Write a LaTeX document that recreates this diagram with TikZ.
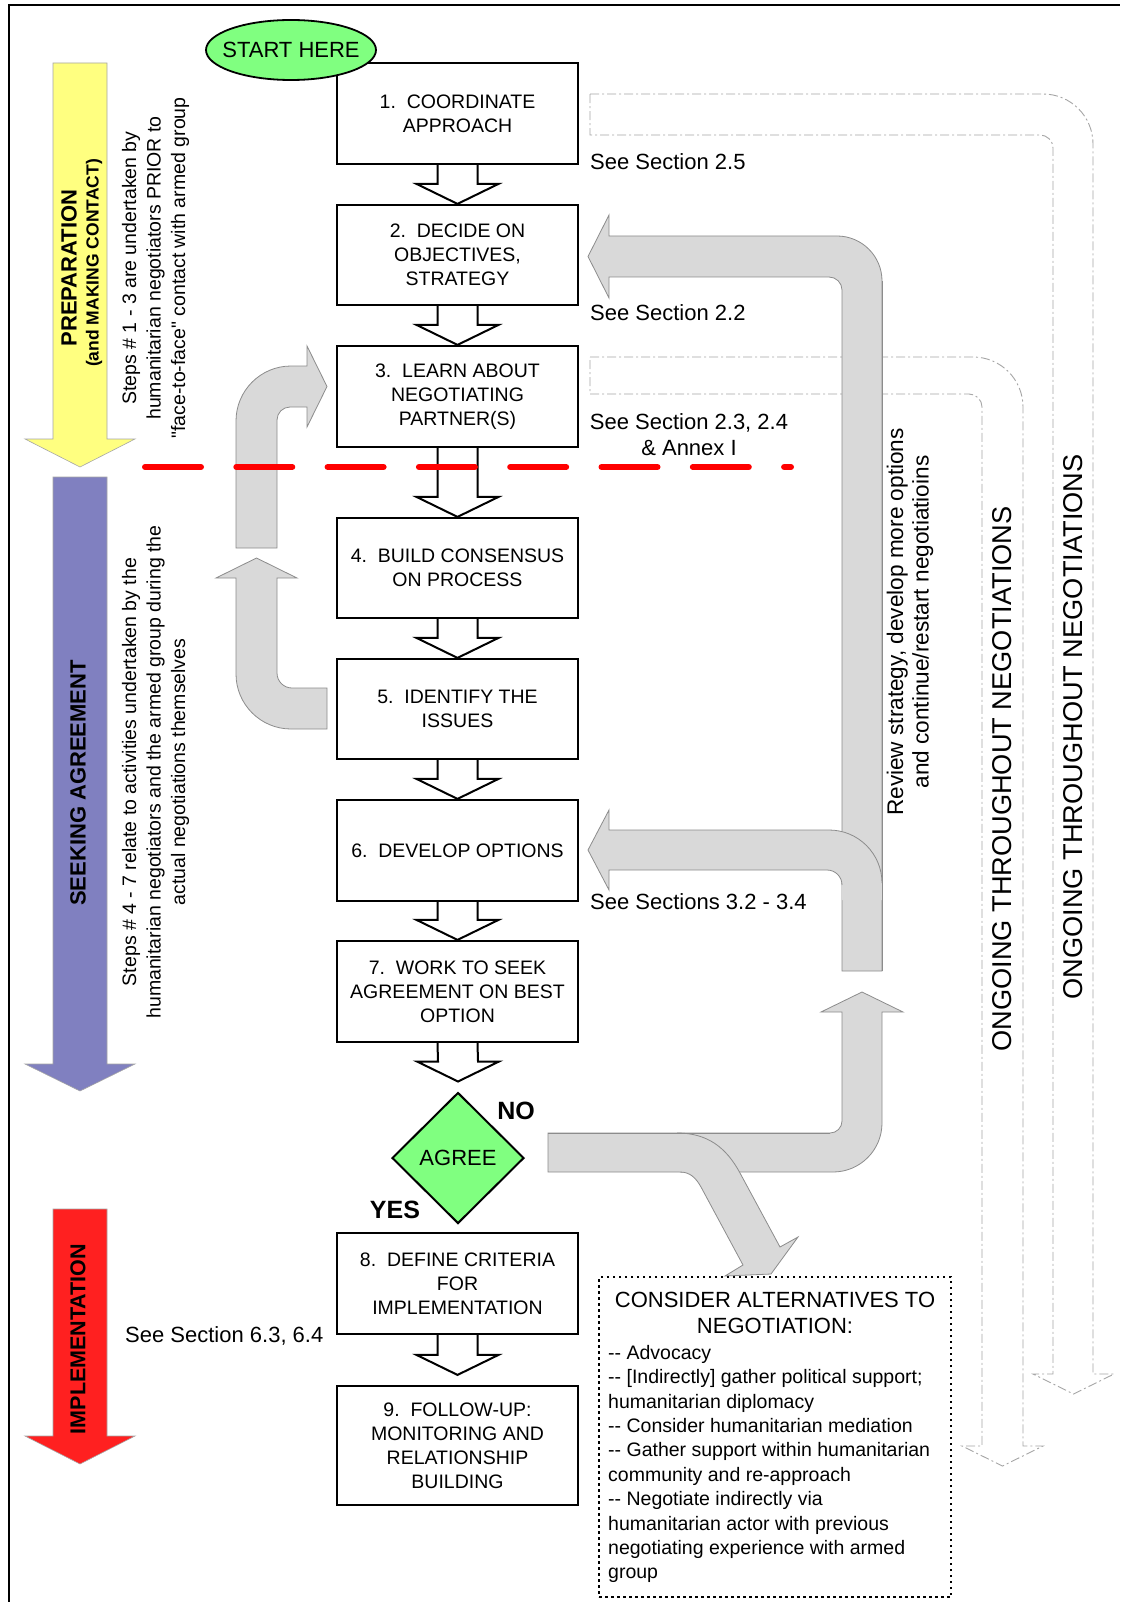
\documentclass[tikz,border=0pt]{standalone}
\usepackage{fontspec}
\setmainfont{Liberation Sans}
\newfontfamily\rawfont{Liberation Sans}[Ligatures=TeXOff]
\usetikzlibrary{shapes.geometric,calc}
\definecolor{agreen}{HTML}{80FF80}
\definecolor{ayellow}{HTML}{FFFF80}
\definecolor{apurple}{HTML}{8080C0}
\definecolor{ared}{HTML}{FF2020}
\definecolor{garrfill}{HTML}{D9D9D9}
\definecolor{garrline}{HTML}{8C8C8C}
\definecolor{dashline}{HTML}{A6A6A6}
\newcommand{\myfs}[2]{\fontsize{#1}{#2}\selectfont}
\newcommand{\sq}{{\rawfont"}}
\newcommand{\blockarrow}[3]{%
  \draw[blockarr] ($(#1.south)+(-20,0)$) -- ($(#2.north)+(-20,-20-#3)$) -- ($(#2.north)+(-41,-20-#3)$) -- ($(#2.north)+(0,-#3)$) -- ($(#2.north)+(41,-20-#3)$) -- ($(#2.north)+(20,-20-#3)$) -- ($(#1.south)+(20,0)$);}
\begin{document}
\begin{tikzpicture}[x=1pt,y=-1pt,
  stepbox/.style={draw,line width=2.2pt,fill=white,minimum width=241pt,inner sep=0pt,align=center,font=\myfs{19.5}{24}},
  blockarr/.style={draw,line width=2pt,fill=white,line join=miter},
  grayarr/.style={fill=garrfill,draw=garrline,line width=0.8pt},
  grayfill/.style={fill=garrfill},
  grayline/.style={draw=garrline,line width=0.8pt},
  dasharr/.style={draw=dashline,line width=0.9pt,dash pattern=on 9pt off 3pt on 2pt off 3pt},
  phasearr/.style={draw=gray!70,line width=0.6pt},
  lbl/.style={font=\myfs{22}{26.6},inner sep=0pt},
  txt/.style={font=\myfs{19.5}{24.4},inner sep=0pt},
  boldlbl/.style={font=\bfseries\myfs{25}{28},inner sep=0pt}]

\useasboundingbox (0,0) rectangle (1120,1602);
\fill[white] (0,0) rectangle (1120,1602);
% frame
\draw[line width=2pt] (9,1602) -- (9,5) -- (1120,5);

% dashed "ongoing" arrows
\draw[dasharr] (590,94) -- (1043,94) arc[start angle=-90,end angle=0,radius=50] -- (1093,1374) -- (1114,1374) -- (1073.5,1394) -- (1033,1374) -- (1053,1374) -- (1053,148) arc[start angle=0,end angle=-90,radius=13] -- (590,135) -- cycle;
\draw[dasharr] (590,357) -- (973,357) arc[start angle=-90,end angle=0,radius=50] -- (1023,1446) -- (1043,1446) -- (1002.5,1466) -- (962,1446) -- (982,1446) -- (982,407) arc[start angle=0,end angle=-90,radius=13] -- (590,394) -- cycle;
\node[font=\myfs{27.2}{30},rotate=90,inner sep=0pt] (ongoing1) at (1002.5,779) {ONGOING THROUGHOUT NEGOTIATIONS};
\node[font=\myfs{27.2}{30},rotate=90,inner sep=0pt] (ongoing2) at (1073,727) {ONGOING THROUGHOUT NEGOTIATIONS};

% phase arrows
\filldraw[phasearr,fill=ayellow] (53,63) -- (107,63) -- (107,439) -- (135,439) -- (80,467) -- (25,439) -- (53,439) -- cycle;
\filldraw[phasearr,fill=apurple] (53,477) -- (107,477) -- (107,1064) -- (135,1064) -- (80,1091) -- (25,1064) -- (53,1064) -- cycle;
\filldraw[phasearr,fill=ared] (53,1209) -- (107,1209) -- (107,1436) -- (135,1436) -- (80,1464) -- (25,1436) -- (53,1436) -- cycle;
\node[font=\bfseries\myfs{22}{26},rotate=90,inner sep=0pt] (prep) at (69,268) {PREPARATION};
\node[font=\bfseries\myfs{17.5}{20},rotate=90,inner sep=0pt] (prepsub) at (94,263) {(and MAKING CONTACT)};
\node[font=\bfseries\myfs{22}{26},rotate=90,inner sep=0pt] (seek) at (78,783) {SEEKING AGREEMENT};
\node[font=\bfseries\myfs{21.5}{26},rotate=90,inner sep=0pt] (impl) at (78,1339) {IMPLEMENTATION};

% rotated notes
\node[txt,rotate=90,align=center,font=\myfs{19.5}{24.5}] (steps13) at (155.5,268) {Steps \# 1 - 3 are undertaken by\\humanitarian negotiators PRIOR to\\\sq face-to-face\sq{} contact with armed group};
\node[txt,rotate=90,align=center,font=\myfs{19.5}{24.5}] (steps47) at (155.5,772) {Steps \# 4 - 7 relate to activities undertaken by the\\humanitarian negotiators and the armed group during the\\actual negotiations themselves};
\node[txt,rotate=90,align=center,font=\myfs{22.6}{25.5}] (review) at (910,622) {Review strategy, develop more options\\and continue/restart negotiatioins};

% gray arrow A (into box 3)
\filldraw[grayarr] (236,548) -- (236,421) arc[start angle=180,end angle=270,radius=55] -- (307,366) -- (307,346) -- (327,386.5) -- (307,427) -- (307,407) -- (290,407) arc[start angle=270,end angle=180,radius=13] -- (277,548) -- cycle;
% gray arrow B (from box 5 upward)
\filldraw[grayarr] (327,688) -- (292,688) arc[start angle=90,end angle=180,radius=15] -- (277,578) -- (297,578) -- (256.5,558) -- (216,578) -- (236,578) -- (236,674) arc[start angle=180,end angle=90,radius=55] -- (327,729) -- cycle;
% gray arrow C (up and into box 2)
\filldraw[grayarr] (842,971) -- (842,290) arc[start angle=0,end angle=-90,radius=13] -- (609,277) -- (609,298) -- (588,256.5) -- (609,215) -- (609,236) -- (837,236) arc[start angle=-90,end angle=0,radius=45] -- (882,971) -- cycle;
% gray branch D (into box 6)
\fill[grayfill] (609,830) -- (829,830) arc[start angle=-90,end angle=0,radius=53] -- (882,900) -- (842,900) -- (842,885) arc[start angle=0,end angle=-90,radius=15] -- (609,870) -- (609,890) -- (588,850) -- (609,810) -- cycle;
\draw[grayline] (842,885) arc[start angle=0,end angle=-90,radius=15] -- (609,870) -- (609,890) -- (588,850) -- (609,810) -- (609,830) -- (829,830) arc[start angle=-90,end angle=0,radius=53];
\draw[grayline] (882,281) -- (882,971);
% gray arrow E (NO branch, up)
\filldraw[grayarr] (548,1133) -- (830,1133) arc[start angle=90,end angle=0,radius=12] -- (842,1012) -- (821,1012) -- (862,992) -- (903,1012) -- (882,1012) -- (882,1123) arc[start angle=0,end angle=90,radius=49] -- (548,1172) -- cycle;
% gray branch F (down to alternatives)
\fill[grayfill] (677,1133) .. controls (707,1133) and (726,1147) .. (740,1173) -- (780,1247) -- (798,1237) -- (771,1274) -- (725,1276) -- (743,1265) -- (701,1187) .. controls (696,1178) and (690,1172) .. (680,1172) -- cycle;
\draw[grayline] (677,1133) .. controls (707,1133) and (726,1147) .. (740,1173) -- (780,1247) -- (798,1237) -- (771,1274) -- (725,1276) -- (743,1265) -- (701,1187) .. controls (696,1178) and (690,1172) .. (680,1172);
\draw[grayline] (548,1133) -- (830,1133);

% step boxes
\node[stepbox,minimum height=101pt] (b1) at (457.5,113.5) {1.\ \ COORDINATE\\APPROACH};
\node[stepbox,minimum height=100pt] (b2) at (457.5,255) {2.\ \ DECIDE ON\\OBJECTIVES,\\STRATEGY};
\node[stepbox,minimum height=101pt] (b3) at (457.5,396.5) {3.\ \ LEARN ABOUT\\NEGOTIATING\\PARTNER(S)};
\node[stepbox,minimum height=100pt] (b4) at (457.5,568) {4.\ \ BUILD CONSENSUS\\ON PROCESS};
\node[stepbox,minimum height=100pt] (b5) at (457.5,709) {5.\ \ IDENTIFY THE\\ISSUES};
\node[stepbox,minimum height=101pt] (b6) at (457.5,850.5) {6.\ \ DEVELOP OPTIONS};
\node[stepbox,minimum height=101pt] (b7) at (457.5,991.5) {7.\ \ WORK TO SEEK\\AGREEMENT ON BEST\\OPTION};
\node[diamond,draw,line width=2pt,fill=agreen,minimum width=132pt,minimum height=131pt,inner sep=0pt,font=\myfs{22}{26}] (agree) at (458,1158) {AGREE};
\node[stepbox,minimum height=101pt] (b8) at (457.5,1283.5) {8.\ \ DEFINE CRITERIA\\FOR\\IMPLEMENTATION};
\node[stepbox,minimum height=119pt] (b9) at (457.5,1445.5) {9.\ \ FOLLOW-UP:\\MONITORING AND\\RELATIONSHIP\\BUILDING};

\node[ellipse,draw,line width=1.8pt,fill=agreen,minimum width=170pt,minimum height=60pt,inner sep=0pt] (start) at (291,50) {};
\node[font=\myfs{22}{26},inner sep=0pt] (starttxt) at (start) {START HERE};

% block arrows between steps
\blockarrow{b1}{b2}{0}
\blockarrow{b2}{b3}{0}
\blockarrow{b3}{b4}{0}
\blockarrow{b4}{b5}{0}
\blockarrow{b5}{b6}{0}
\blockarrow{b6}{b7}{0}
\blockarrow{b7}{agree}{10}
\blockarrow{b8}{b9}{10}

\node[boldlbl] (no) at (516,1111) {NO};
\node[boldlbl] (yes) at (395,1210) {YES};

% side labels
\node[lbl,anchor=west] (s25) at (590,161.5) {See Section 2.5};
\node[lbl,anchor=west] (s22) at (590,313) {See Section 2.2};
\node[lbl,align=center] (s23) at (689,434.5) {See Section 2.3, 2.4\\\& Annex I};
\node[lbl,anchor=west] (s32) at (590,902) {See Sections 3.2 - 3.4};
\node[lbl,anchor=west] (s63) at (125,1336) {See Section 6.3, 6.4};

% alternatives box
\node[draw,fill=white,line width=1.8pt,dash pattern=on 2.5pt off 3.5pt,minimum width=352pt,minimum height=320pt,inner sep=0pt] (alt) at (775,1437) {};
\node[lbl,align=center] (alttitle) at (775,1313) {CONSIDER ALTERNATIVES TO\\NEGOTIATION:};
\node[txt,align=left,anchor=north west] (altbody) at (608,1345) {-{}- Advocacy\\-{}- [Indirectly] gather political support;\\humanitarian diplomacy\\-{}- Consider humanitarian mediation\\-{}- Gather support within humanitarian\\community and re-approach\\-{}- Negotiate indirectly via\\humanitarian actor with previous\\negotiating experience with armed\\group};

% red dashed separator
\draw[red,line width=6pt,line cap=round,dash pattern=on 56pt off 35.3pt] (145,467) -- (791,467);
\end{tikzpicture}
\end{document}
